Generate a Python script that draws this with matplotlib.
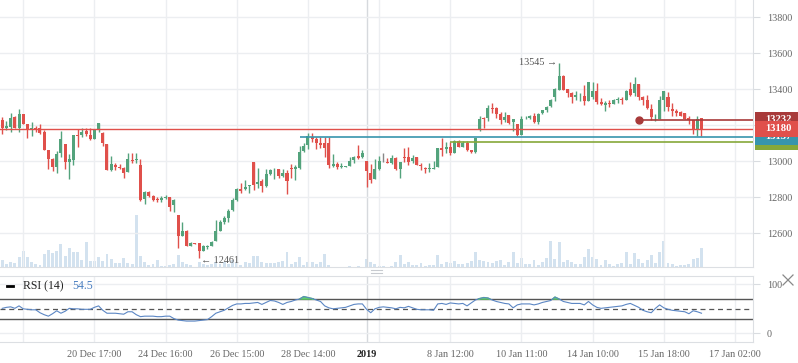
import numpy as np
import matplotlib.pyplot as plt
from matplotlib.lines import Line2D
from matplotlib.patches import Rectangle

plt.rcParams['font.family'] = ['Liberation Serif', 'DejaVu Serif']

# hourly candles, 18 Dec 2018 - 16 Jan 2019
opens = [13230, 13187, 13191, 13246, 13183, 13261, 13205, 13172, 13183, 13183,
         13161, 13061, 13011, 12970, 13048, 13098, 12996, 13007, 13146, 13146,
         13168, 13146, 13124, 13172, 13157, 13096, 12952, 12980, 12970, 12965,
         12942, 13007, 13007, 12979, 12790, 12831, 12807, 12790, 12783, 12794,
         12800, 12755, 12702, 12585, 12613, 12529, 12544, 12544, 12503, 12522,
         12531, 12559, 12613, 12665, 12683, 12729, 12785, 12844, 12844, 12863,
         12996, 12874, 12892, 12863, 12930, 12955, 12955, 12918, 12937, 12965,
         12957, 12961, 13059, 13090, 13137, 13126, 13104, 13104, 13104, 12974,
         12985, 12968, 12970, 12976, 13007, 13030, 13026, 13002, 12937, 12902,
         12957, 13000, 12998, 12989, 13020, 12957, 13024, 13026, 13002, 13022,
         12980, 12965, 12957, 12957, 12970, 13072, 13068, 13081, 13048, 13113,
         13081, 13100, 13063, 13052, 13174, 13240, 13240, 13297, 13297, 13260,
         13227, 13255, 13218, 13205, 13144, 13238, 13242, 13249, 13218, 13268,
         13283, 13305, 13357, 13398, 13472, 13403, 13379, 13357, 13366, 13360,
         13335, 13357, 13388, 13329, 13310, 13323, 13319, 13338, 13347, 13343,
         13404, 13378, 13427, 13356, 13341, 13291, 13238, 13236, 13341, 13356,
         13288, 13279, 13273, 13267, 13242, 13227, 13175, 13242]
highs = [13246, 13224, 13267, 13252, 13289, 13265, 13209, 13217, 13196, 13205,
         13172, 13061, 13020, 13057, 13168, 13098, 13039, 13146, 13178, 13183,
         13183, 13183, 13178, 13215, 13165, 13096, 13030, 12991, 12983, 12969,
         13044, 13044, 13044, 13011, 12835, 12835, 12813, 12800, 12807, 12811,
         12800, 12789, 12702, 12665, 12618, 12554, 12546, 12544, 12535, 12537,
         12555, 12674, 12674, 12696, 12733, 12794, 12850, 12881, 12896, 12867,
         12996, 12961, 12900, 12957, 12955, 12963, 12955, 12955, 12952, 12985,
         12978, 13085, 13100, 13155, 13155, 13133, 13137, 13133, 13137, 13041,
         12996, 12989, 12976, 13022, 13030, 13091, 13065, 13002, 12983, 13011,
         13030, 13048, 13020, 13035, 13026, 12998, 13076, 13079, 13035, 13026,
         12992, 12970, 12992, 13002, 13072, 13131, 13107, 13107, 13118, 13118,
         13115, 13113, 13063, 13129, 13253, 13248, 13310, 13323, 13301, 13273,
         13273, 13255, 13236, 13209, 13251, 13249, 13258, 13271, 13268, 13286,
         13305, 13346, 13409, 13545, 13477, 13403, 13384, 13390, 13379, 13422,
         13438, 13438, 13435, 13353, 13334, 13338, 13347, 13356, 13356, 13397,
         13438, 13467, 13427, 13360, 13371, 13319, 13264, 13365, 13393, 13384,
         13323, 13288, 13277, 13267, 13249, 13230, 13249, 13242]
lows = [13154, 13172, 13165, 13183, 13165, 13205, 13131, 13143, 13165, 13154,
        13065, 12959, 12946, 12937, 13024, 12959, 12904, 12980, 13081, 13135,
        13143, 13118, 13124, 13165, 13085, 12952, 12946, 12952, 12956, 12909,
        12942, 12992, 12992, 12779, 12761, 12800, 12779, 12772, 12772, 12789,
        12726, 12720, 12520, 12585, 12529, 12529, 12540, 12461, 12503, 12515,
        12531, 12559, 12613, 12650, 12665, 12726, 12779, 12822, 12840, 12826,
        12841, 12850, 12831, 12859, 12924, 12904, 12909, 12911, 12818, 12907,
        12896, 12955, 13054, 13066, 13109, 13068, 13074, 13022, 12965, 12970,
        12955, 12963, 12968, 12974, 12992, 13011, 13017, 12855, 12878, 12900,
        12952, 12998, 12989, 12985, 12952, 12909, 12998, 12980, 12989, 12980,
        12952, 12937, 12942, 12955, 12970, 13030, 13048, 13035, 13048, 13081,
        13081, 13059, 13044, 13048, 13170, 13183, 13223, 13268, 13240, 13205,
        13220, 13209, 13168, 13140, 13144, 13233, 13236, 13212, 13205, 13264,
        13273, 13301, 13335, 13394, 13394, 13357, 13323, 13338, 13333, 13310,
        13335, 13347, 13316, 13310, 13278, 13301, 13316, 13325, 13316, 13338,
        13360, 13360, 13341, 13310, 13291, 13232, 13223, 13236, 13282, 13282,
        13249, 13254, 13249, 13236, 13208, 13153, 13143, 13143]
closes = [13187, 13198, 13239, 13187, 13261, 13209, 13172, 13183, 13178, 13157,
          13065, 13015, 12970, 13039, 13122, 12996, 13011, 13146, 13141, 13161,
          13150, 13124, 13178, 13211, 13102, 12952, 12983, 12970, 12965, 12937,
          13011, 13004, 13011, 12785, 12831, 12807, 12785, 12785, 12794, 12803,
          12748, 12785, 12585, 12613, 12529, 12544, 12542, 12503, 12529, 12529,
          12551, 12613, 12665, 12683, 12726, 12785, 12844, 12837, 12859, 12867,
          12868, 12887, 12863, 12930, 12952, 12959, 12918, 12937, 12892, 12955,
          12970, 13054, 13085, 13141, 13126, 13100, 13090, 13072, 12979, 12985,
          12970, 12974, 12974, 13004, 13026, 13017, 13044, 12948, 12896, 12957,
          13002, 13000, 12989, 13020, 12957, 12998, 13020, 12994, 13017, 12980,
          12974, 12959, 12965, 12965, 13072, 13063, 13079, 13044, 13113, 13081,
          13104, 13063, 13050, 13129, 13235, 13237, 13297, 13292, 13264, 13227,
          13246, 13212, 13233, 13144, 13236, 13242, 13249, 13218, 13264, 13283,
          13301, 13342, 13403, 13472, 13398, 13379, 13357, 13368, 13370, 13335,
          13438, 13388, 13329, 13316, 13323, 13316, 13338, 13347, 13343, 13393,
          13369, 13427, 13356, 13338, 13297, 13245, 13242, 13341, 13393, 13301,
          13277, 13267, 13254, 13236, 13227, 13175, 13236, 13180]
volumes = [730, 330, 530, 430, 1030, 1630, 1030, 530, 330, 230,
           1330, 1730, 1430, 1630, 2330, 1130, 1930, 1530, 1530, 730,
           2530, 630, 630, 1030, 630, 1330, 830, 430, 430, 930,
           430, 370, 5270, 1100, 530, 200, 300, 700, 130, 130,
           230, 370, 1200, 530, 300, 230, 50, 570, 300, 230,
           370, 530, 370, 530, 370, 700, 430, 230, 530, 430,
           1130, 1130, 530, 430, 430, 430, 530, 630, 1530, 330,
           530, 1030, 230, 530, 530, 330, 530, 1330, 230, 30,
           30, 30, 30, 130, 30, 130, 30, 830, 530, 330,
           130, 130, 30, 130, 530, 1230, 330, 530, 230, 230,
           430, 130, 230, 230, 1230, 330, 530, 430, 630, 330,
           330, 430, 630, 1530, 730, 630, 530, 400, 670, 730,
           230, 530, 1530, 400, 930, 330, 330, 730, 230, 530,
           930, 2630, 830, 2530, 530, 730, 530, 330, 330, 1030,
           1830, 1030, 830, 230, 730, 330, 130, 330, 430, 1530,
           330, 1430, 830, 430, 730, 1230, 430, 1530, 2630, 430,
           330, 130, 230, 230, 330, 830, 930, 1930]
rsi = [51, 53, 54, 51, 56, 50, 49, 48, 48, 42,
       38, 35, 40, 46, 41, 45, 51, 50, 50, 49,
       49, 49, 53, 56, 47, 41, 41, 41, 40, 39,
       44, 44, 38, 34, 35, 35, 35, 34, 34, 35,
       35, 30, 27, 26, 25, 25, 25, 26, 27, 28,
       34, 41, 44, 47, 52, 57, 60, 60, 61, 61,
       62, 63, 59, 63, 67, 66, 63, 59, 63, 65,
       68, 70, 75, 73, 71, 68, 65, 56, 52, 50,
       51, 52, 53, 56, 59, 60, 60, 49, 42, 50,
       53, 54, 53, 52, 50, 53, 52, 55, 52, 49,
       48, 48, 48, 47, 60, 61, 59, 62, 61, 60,
       61, 56, 62, 68, 71, 73, 72, 68, 65, 63,
       61, 60, 52, 58, 60, 60, 60, 58, 60, 63,
       65, 67, 74, 70, 65, 63, 61, 61, 61, 58,
       65, 58, 53, 51, 52, 53, 54, 55, 56, 59,
       61, 57, 53, 47, 44, 42, 51, 58, 52, 49,
       47, 46, 45, 44, 40, 46, 44, 41]

tick_idx = [5, 22, 39, 56, 73, 90, 107, 124, 141, 158, 175]
tick_labels = ['', '20 Dec 17:00', '24 Dec 16:00', '26 Dec 15:00', '28 Dec 14:00', '',
               '8 Jan 12:00', '10 Jan 11:00', '14 Jan 10:00', '15 Jan 18:00', '17 Jan 02:00']
year_idx = 87
year_label = '2019'

# drawn levels
blue_level, blue_start = 13137, 71
green_level, green_start = 13105, 107
ray_level, ray_start = 13232, 152
rsi_label = 'RSI (14)'
rsi_value = 54.5

GREEN = '#53a37c'
RED = '#e0504b'
GRID = '#eceef1'
TXT = '#666666'

fig = plt.figure(figsize=(7.98, 3.63), dpi=100)
ax = fig.add_axes([0, 0.2636, 0.9436, 0.7364])
axv = fig.add_axes([0, 0.2636, 0.9436, 0.7364], sharex=ax)
ax2 = fig.add_axes([0, 0.0587, 0.9436, 0.1818], sharex=ax)

x = np.arange(len(closes))
o = np.array(opens); c = np.array(closes)
h = np.array(highs); l = np.array(lows)
cols = np.where(c > o, GREEN, np.where(c < o, RED, '#888888'))

# volume underneath
axv.bar(x, volumes, width=0.7, color='#d3e2ef', zorder=1)
axv.set_ylim(0, 26700)
axv.axis('off')
axv.set_zorder(1)
ax.set_zorder(2)
ax.patch.set_alpha(0)

ax.vlines(x, l, h, colors=cols, lw=1, zorder=3)
ax.bar(x, np.maximum(np.abs(c - o), 4), bottom=np.minimum(o, c), width=0.72,
       color=cols, zorder=4)

xmax = 179.3
ax.set_xlim(-0.55, xmax)
ax.set_ylim(12411, 13896)
ax.yaxis.tick_right()
ax.set_yticks(range(12600, 13801, 200))
ax.tick_params(axis='y', length=5, color='#d9dce0', labelsize=7.3, labelcolor=TXT, pad=5)
ax.tick_params(axis='x', length=0, labelbottom=False)
ax.grid(axis='y', color=GRID, lw=1)
for t in tick_idx:
    ax.axvline(t, color=GRID, lw=1, zorder=0)
    ax2.axvline(t, color=GRID, lw=1, zorder=0)
ax.axvline(year_idx, color='#d6d9dd', lw=1, zorder=0)
ax2.axvline(year_idx, color='#d6d9dd', lw=1, zorder=0)
for s in ['top', 'left']:
    ax.spines[s].set_visible(False)
for s in ['right', 'bottom']:
    ax.spines[s].set_color('#dcdfe3')

# level lines
last = closes[-1]
ax.axhline(last, color=RED, lw=1, zorder=5)
ax.hlines(blue_level, blue_start, xmax, color='#3795ad', lw=1.2, zorder=5)
ax.hlines(green_level, green_start, xmax, color='#86a83a', lw=1.2, zorder=5)
ax.hlines(ray_level, ray_start, xmax, color='#a83a3a', lw=1.2, zorder=5)
ax.plot(ray_start, ray_level, 'o', ms=5, color='#a83a3a', zorder=6)

# price tags on the right edge (overlapping, newest on top)
tr = ax.get_yaxis_transform()
tag_h = 88  # price units, about 16 px
for val, col, z in [(ray_level, '#a83a3a', 7), (green_level, '#86a83a', 8),
                    (blue_level, '#3795ad', 9), (last, RED, 10)]:
    ax.add_patch(Rectangle((1.003, val - tag_h / 2), 0.06, tag_h, transform=tr,
                           fc=col, ec='none', clip_on=False, zorder=z))
    ax.text(1.016, val, f'{val}', transform=tr, ha='left', va='center',
            fontsize=7.6, color='white', fontweight='bold', zorder=z, clip_on=False)

# high / low markers
ih = int(np.argmax(h)); il = int(np.argmin(l))
ax.text(ih - 0.4, h[ih] + 5, f'{h[ih]} \u2192', ha='right', va='center',
        fontsize=7.3, color='#555555', zorder=6)
ax.text(il + 0.4, l[il] - 14, f'\u2190 {l[il]}', ha='left', va='center',
        fontsize=7.3, color='#555555', zorder=6)

# RSI panel
r = np.array(rsi, dtype=float)
ax2.plot(x, r, color='#5b86c4', lw=0.8, zorder=4)
ax2.fill_between(x, r, 70, where=r > 70, interpolate=True, color='#5fcf6a', zorder=3)
ax2.axhline(70, color='#555555', lw=1, zorder=2)
ax2.axhline(30, color='#555555', lw=1, zorder=2)
ax2.axhline(50, color='#555555', lw=0.9, ls=(0, (4, 3)), zorder=2)
ax2.set_ylim(-17.1, 117.6)
ax2.yaxis.tick_right()
ax2.set_yticks([0, 100])
ax2.grid(axis='y', color=GRID, lw=1)
ax2.tick_params(axis='y', length=5, color='#d9dce0', labelsize=7.3, labelcolor=TXT, pad=5)
ax2.set_xticks(tick_idx + [year_idx])
ax2.set_xticklabels(tick_labels + [year_label])
ax2.tick_params(axis='x', length=0, labelsize=7.3, labelcolor=TXT, pad=6)
yl = ax2.get_xticklabels()[-1]
yl.set_color('#222222'); yl.set_fontweight('bold')
ax2.spines['left'].set_visible(False)
for s in ['top', 'right', 'bottom']:
    ax2.spines[s].set_color('#dcdfe3')

ax2.add_line(Line2D([7 / 753, 13 / 753], [0.845, 0.845], transform=ax2.transAxes,
                    color='black', lw=2))
ax2.text(23 / 753, 0.845, rsi_label, transform=ax2.transAxes, fontsize=8.5,
         color='#222222', va='center')
ax2.text(72 / 753, 0.845, f'{rsi_value}', transform=ax2.transAxes, fontsize=8.5,
         color='#4a7fc1', va='center')

# close icon and resize handle
fig.add_artist(Line2D([783 / 798, 793 / 798], [1 - 275 / 363, 1 - 285 / 363], color='#888888', lw=0.9))
fig.add_artist(Line2D([783 / 798, 793 / 798], [1 - 285 / 363, 1 - 275 / 363], color='#888888', lw=0.9))
for yy in (269.5, 272.5):
    fig.add_artist(Line2D([371 / 798, 382 / 798], [1 - yy / 363] * 2, color='#c8cbd0', lw=0.8))

fig.savefig('out.png', dpi=100)
